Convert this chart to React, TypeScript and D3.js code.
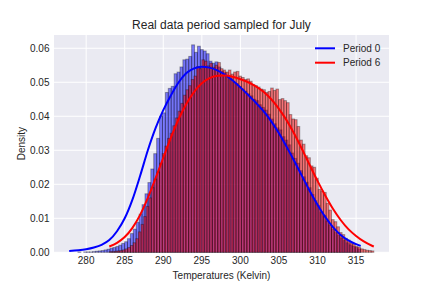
import * as d3 from 'd3';

// histogram of period 0 (100 bins over the sample range)
const period0Range: [number, number] = [277.8, 315.6];
const period0Hist = [
  0.0, 0.0, 0.0, 0.0001, 0.0, 0.0001, 0.0001, 0.0001, 0.0002, 0.0003,
  0.0004, 0.0005, 0.0007, 0.0009, 0.0012, 0.0014, 0.0017, 0.0021, 0.0026, 0.0031,
  0.004, 0.0055, 0.0068, 0.0088, 0.0112, 0.014, 0.0172, 0.0205, 0.0245, 0.029,
  0.0335, 0.04, 0.041, 0.047, 0.0482, 0.0488, 0.0525, 0.053, 0.0545, 0.0566,
  0.0568, 0.0576, 0.061, 0.0588, 0.0606, 0.0596, 0.0592, 0.0584, 0.0562, 0.0556,
  0.056, 0.0545, 0.0532, 0.0528, 0.0515, 0.0512, 0.05, 0.0496, 0.0488, 0.048,
  0.0474, 0.0466, 0.046, 0.045, 0.0446, 0.0434, 0.0426, 0.0418, 0.0406, 0.0392,
  0.0378, 0.0366, 0.036, 0.034, 0.033, 0.0316, 0.0292, 0.0276, 0.0262, 0.024,
  0.0222, 0.0206, 0.019, 0.017, 0.0152, 0.0138, 0.0118, 0.0108, 0.0092, 0.008,
  0.0068, 0.0058, 0.005, 0.0042, 0.0035, 0.0028, 0.0022, 0.0018, 0.0014, 0.001,
];

// histogram of period 6
const period6Range: [number, number] = [283.0, 317.3];
const period6Hist = [
  0.0002, 0.0002, 0.0003, 0.0004, 0.0005, 0.0007, 0.001, 0.0014, 0.002, 0.0028,
  0.004, 0.006, 0.0082, 0.0105, 0.0135, 0.016, 0.019, 0.0215, 0.0235, 0.0262,
  0.029, 0.0312, 0.0335, 0.035, 0.0372, 0.0395, 0.0415, 0.0438, 0.0462, 0.0478,
  0.049, 0.0508, 0.0518, 0.0546, 0.054, 0.0566, 0.0562, 0.0548, 0.0556, 0.0544,
  0.055, 0.0558, 0.054, 0.0536, 0.053, 0.0536, 0.0524, 0.053, 0.0532, 0.0518,
  0.0514, 0.0508, 0.051, 0.0503, 0.0493, 0.049, 0.0486, 0.048, 0.0478, 0.047,
  0.0473, 0.0483, 0.0476, 0.048, 0.0449, 0.0452, 0.0446, 0.044, 0.0405, 0.0392,
  0.039, 0.037, 0.033, 0.0318, 0.0284, 0.0278, 0.0254, 0.025, 0.0218, 0.0185,
  0.018, 0.0176, 0.0144, 0.0124, 0.0096, 0.009, 0.0075, 0.0058, 0.0052, 0.0041,
  0.0036, 0.0027, 0.0024, 0.0017, 0.0015, 0.001, 0.0008, 0.0006, 0.0005, 0.0004,
];

// fitted density curves
const curve0Temps = [
  277.8, 279, 280, 281, 282, 283, 284, 285, 286, 287, 288, 289, 290, 291, 292, 293, 294, 295,
  296, 297, 298, 299, 300, 301, 302, 303, 304, 305, 306, 307, 308, 309, 310, 311, 312, 313,
  314, 315, 315.6,
];
const curve0 = [
  0.0004, 0.0006, 0.0009, 0.0014, 0.0022, 0.0036, 0.0062, 0.01, 0.0155, 0.0225, 0.03, 0.0365,
  0.0418, 0.0462, 0.05, 0.0527, 0.0541, 0.0546, 0.0543, 0.0535, 0.0522, 0.0505, 0.0485, 0.0463,
  0.044, 0.0415, 0.0385, 0.035, 0.031, 0.0268, 0.0224, 0.018, 0.014, 0.0104, 0.0074, 0.0051,
  0.0035, 0.0024, 0.0019,
];
const curve6Temps = [
  283, 284, 285, 286, 287, 288, 289, 290, 291, 292, 293, 294, 295, 296, 297, 298, 299, 300,
  301, 302, 303, 304, 305, 306, 307, 308, 309, 310, 311, 312, 313, 314, 315, 316, 317, 317.3,
];
const curve6 = [
  0.0017, 0.0028, 0.0045, 0.0072, 0.011, 0.016, 0.0218, 0.0278, 0.0338, 0.0392, 0.0437, 0.0472,
  0.0497, 0.0512, 0.0519, 0.052, 0.0516, 0.0509, 0.05, 0.0488, 0.0472, 0.045, 0.0422, 0.0388,
  0.0348, 0.0303, 0.0256, 0.021, 0.0167, 0.0128, 0.0095, 0.0068, 0.0048, 0.0032, 0.002, 0.0017,
];

const xTicks = [280, 285, 290, 295, 300, 305, 310, 315];
const yTicks = [0, 0.01, 0.02, 0.03, 0.04, 0.05, 0.06];
const legendItems = [
  { label: 'Period 0', color: '#0000ff' },
  { label: 'Period 6', color: '#ff0000' },
];

const W = 432;
const H = 288;
const plot = { left: 54, right: 389, top: 35, bottom: 252.3 };
const font = '"Liberation Sans", Arial, sans-serif';
const textColor = '#262626';

export default function App() {
  const x = d3.scaleLinear().domain([275.83, 319.27]).range([plot.left, plot.right]);
  const y = d3.scaleLinear().domain([0, 0.0639]).range([plot.bottom, plot.top]);

  const bars = (values: number[], range: [number, number]) => {
    const w = (range[1] - range[0]) / values.length;
    return values.map((v, i) => {
      const x0 = x(range[0] + i * w);
      const x1 = x(range[0] + (i + 1) * w);
      return { x: x0, w: x1 - x0, y: y(v), h: y(0) - y(v) };
    });
  };

  const line = d3
    .line<[number, number]>()
    .x((d) => x(d[0]))
    .y((d) => y(d[1]))
    .curve(d3.curveMonotoneX);

  const path0 = line(curve0Temps.map((t, i) => [t, curve0[i]]));
  const path6 = line(curve6Temps.map((t, i) => [t, curve6[i]]));

  const histRects = (values: number[], range: [number, number], color: string, key: string) =>
    bars(values, range).map((b, i) => (
      <rect
        key={key + i}
        x={b.x}
        y={b.y}
        width={b.w}
        height={b.h}
        fill={color}
        fillOpacity={0.5}
        stroke="#000"
        strokeOpacity={0.33}
        strokeWidth={1}
      />
    ));

  return (
    <svg
      width={W}
      height={H}
      style={{ position: 'absolute', left: 0, top: 0, background: '#fff' }}
      fontFamily={font}
    >
      <rect
        x={plot.left}
        y={plot.top}
        width={plot.right - plot.left}
        height={plot.bottom - plot.top}
        fill="#eaeaf2"
      />
      {/* grid */}
      {xTicks.map((t) => (
        <line key={'gx' + t} x1={x(t)} x2={x(t)} y1={plot.top} y2={plot.bottom} stroke="#fff" strokeWidth={1} />
      ))}
      {yTicks.map((t) => (
        <line key={'gy' + t} x1={plot.left} x2={plot.right} y1={y(t)} y2={y(t)} stroke="#fff" strokeWidth={1} />
      ))}

      {/* histograms */}
      {histRects(period0Hist, period0Range, '#0000ff', 'b0')}
      {histRects(period6Hist, period6Range, '#ff0000', 'b6')}

      {/* curves */}
      <path d={path0 ?? ''} fill="none" stroke="#0000ff" strokeWidth={2} />
      <path d={path6 ?? ''} fill="none" stroke="#ff0000" strokeWidth={2} />

      {/* y axis labels */}
      {yTicks.map((t) => (
        <text key={'ty' + t} x={49.5} y={y(t)} dy="0.35em" textAnchor="end" fontSize={10} fill={textColor}>
          {t.toFixed(2)}
        </text>
      ))}
      {/* x axis labels */}
      {xTicks.map((t) => (
        <text key={'tx' + t} x={x(t)} y={264} textAnchor="middle" fontSize={10} fill={textColor}>
          {t}
        </text>
      ))}

      <text x={(plot.left + plot.right) / 2} y={278.5} textAnchor="middle" fontSize={10} fill={textColor}>
        Temperatures (Kelvin)
      </text>
      <text
        transform={`translate(24.5,${(plot.top + plot.bottom) / 2}) rotate(-90)`}
        textAnchor="middle"
        fontSize={10}
        fill={textColor}
      >
        Density
      </text>
      <text x={(plot.left + plot.right) / 2} y={29} textAnchor="middle" fontSize={12} fill={textColor}>
        Real data period sampled for July
      </text>

      {/* legend */}
      {legendItems.map((d, i) => (
        <g key={d.label} transform={`translate(315,${48.3 + i * 14.4})`}>
          <line x1={0} x2={20} y1={0} y2={0} stroke={d.color} strokeWidth={2} />
          <text x={28} y={0} dy="0.35em" fontSize={10} fill={textColor}>
            {d.label}
          </text>
        </g>
      ))}
    </svg>
  );
}
